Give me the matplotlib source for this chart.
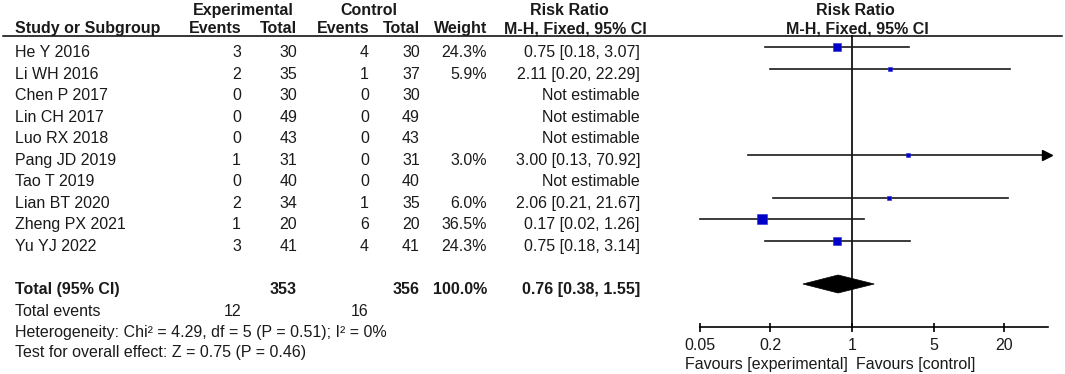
import matplotlib.pyplot as plt
from matplotlib.patches import Polygon

plt.rcParams["font.family"] = ["Liberation Sans", "DejaVu Sans"]

# ------------------------------------------------------------------
# data
# ------------------------------------------------------------------
studies = ["He Y 2016", "Li WH 2016", "Chen P 2017", "Lin CH 2017", "Luo RX 2018",
           "Pang JD 2019", "Tao T 2019", "Lian BT 2020", "Zheng PX 2021", "Yu YJ 2022"]
exp_events = [3, 2, 0, 0, 0, 1, 0, 2, 1, 3]
exp_total = [30, 35, 30, 49, 43, 31, 40, 34, 20, 41]
ctrl_events = [4, 1, 0, 0, 0, 0, 0, 1, 6, 4]
ctrl_total = [30, 37, 30, 49, 43, 31, 40, 35, 20, 41]
weight = [24.3, 5.9, None, None, None, 3.0, None, 6.0, 36.5, 24.3]
rr = [0.75, 2.11, None, None, None, 3.00, None, 2.06, 0.17, 0.75]
lo = [0.18, 0.20, None, None, None, 0.13, None, 0.21, 0.02, 0.18]
hi = [3.07, 22.29, None, None, None, 70.92, None, 21.67, 1.26, 3.14]

tot_exp, tot_ctrl = 353, 356
tot_exp_events, tot_ctrl_events = 12, 16
tot_rr, tot_lo, tot_hi = 0.76, 0.38, 1.55
heterogeneity = "Heterogeneity: Chi\u00b2 = 4.29, df = 5 (P = 0.51); I\u00b2 = 0%"
overall = "Test for overall effect: Z = 0.75 (P = 0.46)"

ticks = [0.05, 0.2, 1, 5, 20]
tick_labels = ["0.05", "0.2", "1", "5", "20"]
x_min, x_max = 0.05, 47.6

# ------------------------------------------------------------------
# layout (figure pixels, y grows downward)
# ------------------------------------------------------------------
W, H = 1065, 374
FS = 11.5
TXT = "#1a1a1a"
row_gap = 21.56
line_y0 = 47.0          # first CI line
base_y0 = 57.0          # first text baseline
col_study = 15
col_ee, col_et, col_ce, col_ct, col_w, col_ci = 241, 297, 369, 420, 487, 640

fig = plt.figure(figsize=(W / 100, H / 100), dpi=100)
ax = fig.add_axes([0, 0, 1, 1])
ax.set_xlim(0, W)
ax.set_ylim(H, 0)
ax.axis("off")

def txt(x, y, s, ha="left", bold=False):
    ax.text(x, y, s, ha=ha, va="baseline", fontsize=FS, color=TXT,
            fontweight="bold" if bold else "normal")

# headers
txt(243, 15, "Experimental", ha="center", bold=True)
txt(369, 15, "Control", ha="center", bold=True)
txt(569, 15, "Risk Ratio", ha="center", bold=True)
txt(col_study, 33, "Study or Subgroup", bold=True)
txt(col_ee, 33, "Events", ha="right", bold=True)
txt(col_et, 33, "Total", ha="right", bold=True)
txt(col_ce, 33, "Events", ha="right", bold=True)
txt(col_ct, 33, "Total", ha="right", bold=True)
txt(col_w, 33, "Weight", ha="right", bold=True)
txt(575, 33, "M-H, Fixed, 95% CI", ha="center", bold=True)
txt(855, 15, "Risk Ratio", ha="center", bold=True)
txt(857, 33, "M-H, Fixed, 95% CI", ha="center", bold=True)
ax.plot([3, 1062], [35.5, 35.5], color="black", lw=1.1)

# study rows
for i, name in enumerate(studies):
    yb = base_y0 + i * row_gap
    txt(col_study, yb, name)
    txt(col_ee, yb, str(exp_events[i]), ha="right")
    txt(col_et, yb, str(exp_total[i]), ha="right")
    txt(col_ce, yb, str(ctrl_events[i]), ha="right")
    txt(col_ct, yb, str(ctrl_total[i]), ha="right")
    if weight[i] is not None:
        txt(col_w, yb, f"{weight[i]:.1f}%", ha="right")
        txt(col_ci, yb, f"{rr[i]:.2f} [{lo[i]:.2f}, {hi[i]:.2f}]", ha="right")
    else:
        txt(col_ci, yb, "Not estimable", ha="right")

# totals and footer
tot_base = 294
txt(col_study, tot_base, "Total (95% CI)", bold=True)
txt(col_et, tot_base, str(tot_exp), ha="right", bold=True)
txt(col_ct, tot_base, str(tot_ctrl), ha="right", bold=True)
txt(col_w, tot_base, "100.0%", ha="right", bold=True)
txt(col_ci, tot_base, f"{tot_rr:.2f} [{tot_lo:.2f}, {tot_hi:.2f}]", ha="right", bold=True)
txt(col_study, 315.5, "Total events")
txt(col_ee, 315.5, str(tot_exp_events), ha="right")
txt(col_ce, 315.5, str(tot_ctrl_events), ha="right")
txt(col_study, 336.5, heterogeneity)
txt(col_study, 357.5, overall)

# ------------------------------------------------------------------
# forest panel: log axis from x=700 to x=1048
# ------------------------------------------------------------------
fx0, fx1 = 700, 1048
fa = fig.add_axes([fx0 / W, 0, (fx1 - fx0) / W, 1])
fa.set_xscale("log")
fa.set_xlim(x_min, x_max)
fa.set_ylim(H, 0)
fa.axis("off")

axis_y = 327
fa.plot([1, 1], [35.5, axis_y], color="black", lw=1.2, clip_on=False)
fa.plot([x_min, x_max], [axis_y, axis_y], color="black", lw=1.2, clip_on=False)
fa.vlines(ticks, axis_y - 4, axis_y + 5, color="black", lw=1.2, clip_on=False)
for t, lab in zip(ticks, tick_labels):
    fa.text(t, 350, lab, ha="center", va="baseline", fontsize=FS, color=TXT)
fa.text(0.93, 369, "Favours [experimental]", ha="right", va="baseline", fontsize=FS, color=TXT)
fa.text(1.09, 369, "Favours [control]", ha="left", va="baseline", fontsize=FS, color=TXT)

for i in range(len(studies)):
    if rr[i] is None:
        continue
    yl = line_y0 + i * row_gap
    left = max(lo[i], x_min)
    right = min(hi[i], x_max)
    fa.plot([left, right], [yl, yl], color="#1a1a1a", lw=1.2, clip_on=False)
    if hi[i] > x_max:
        fa.plot([x_max * 0.98], [yl], marker=">", ms=7, color="black", clip_on=False)
    side = 2.5 + 0.23 * weight[i]
    fa.plot([rr[i]], [yl], marker="s", ms=side * 0.72, color="#0000c8",
            mec="#2a2ad8", mew=0.4, clip_on=False)

dy = 284
diamond = Polygon([(tot_lo, dy), (tot_rr, dy - 9), (tot_hi, dy), (tot_rr, dy + 9)],
                  closed=True, facecolor="black", edgecolor="black", lw=0.5)
fa.add_patch(diamond)

fig.savefig("out.png", dpi=100)
